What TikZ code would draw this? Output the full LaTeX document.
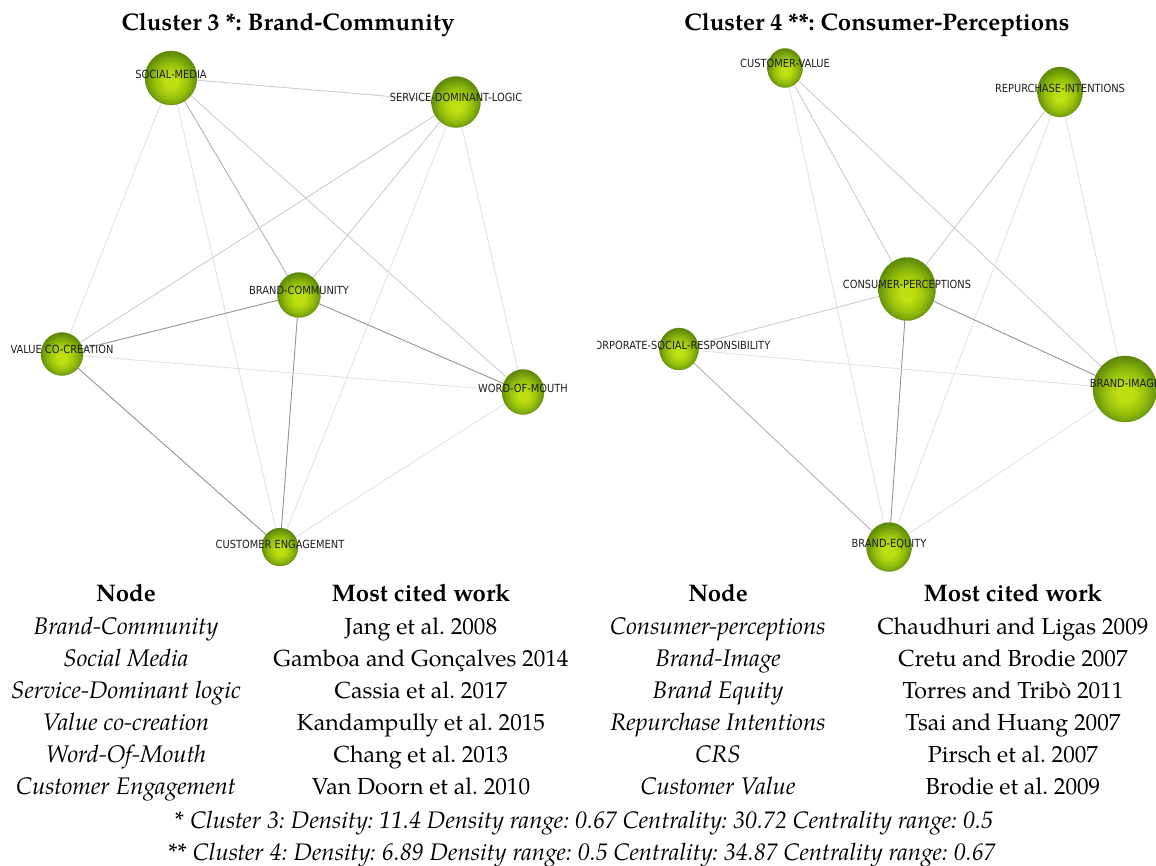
\documentclass[tikz,border=0pt]{standalone}
\usepackage{fontspec}
\setmainfont{TeX Gyre Pagella}
\newfontfamily\netfont[FakeStretch=0.88]{DejaVu Sans}
\usepackage{tikz}
\usetikzlibrary{shapes.geometric}
\frenchspacing

\definecolor{balllight}{RGB}{190,224,16}
\definecolor{ballmid}{RGB}{150,192,12}
\definecolor{balldark}{RGB}{90,134,8}
\definecolor{labelgray}{RGB}{30,30,30}
\pgfdeclareradialshading{greenball}{\pgfpoint{0bp}{-4bp}}{%
  color(0bp)=(balllight); color(6bp)=(balllight); color(16bp)=(ballmid);
  color(27bp)=(balldark); color(50bp)=(balldark)}
\pgfdeclarelayer{background}
\pgfsetlayers{background,main}

\tikzset{
  ball/.style={ellipse, shade, shading=greenball, inner sep=0pt,
    draw=balldark, line width=0.3pt},
  lbl/.style={font=\netfont\fontsize{11.2}{13}\selectfont, text=labelgray,
    inner sep=0pt, text height=8pt, text depth=0pt},
  link/.style={line width=0.9pt},
  lnfaint/.style={link, draw=black!11},
  lnlight/.style={link, draw=black!20},
  lnmid/.style={link, draw=black!30},
  lndark/.style={link, draw=black!42},
  ttl/.style={font=\fontsize{24}{28}\selectfont\bfseries, inner sep=0pt, anchor=base},
  cell/.style={font=\fontsize{23.2}{28}\selectfont, inner sep=0pt, anchor=base},
  nodecell/.style={cell, font=\fontsize{24}{28}\selectfont\itshape},
  note/.style={font=\fontsize{23.9}{28}\selectfont\itshape, inner sep=0pt, anchor=base}
}

\begin{document}
\begin{tikzpicture}[x=1pt,y=-1pt]
\useasboundingbox (0,0) rectangle (1156,866);

% titles
\node[ttl] (t3) at (288,31) {Cluster 3 *: Brand-Community};
\node[ttl] (t4) at (877,31) {Cluster 4 **: Consumer-Perceptions};

% cluster 3
\node[ball, minimum width=52pt, minimum height=54pt] (sm) at (171,78) {};
\node[ball, minimum width=49pt, minimum height=51pt] (sdl) at (456,102) {};
\node[ball, minimum width=43pt, minimum height=45pt] (bc) at (299,295) {};
\node[ball, minimum width=42pt, minimum height=43pt] (vcc) at (62,354) {};
\node[ball, minimum width=42pt, minimum height=45pt] (wom) at (523,392) {};
\node[ball, minimum width=36pt, minimum height=38pt] (ce) at (280,547) {};

\node[lbl] (sm-l) at ([yshift=3.5pt]sm.center) {SOCIAL-MEDIA};
\node[lbl] (sdl-l) at ([yshift=4pt]sdl.center) {SERVICE-DOMINANT-LOGIC};
\node[lbl] (bc-l) at ([yshift=4pt]bc.center) {BRAND-COMMUNITY};
\node[lbl] (vcc-l) at ([yshift=4pt]vcc.center) {VALUE CO-CREATION};
\node[lbl] (wom-l) at ([yshift=4pt]wom.center) {WORD-OF-MOUTH};
\node[lbl] (ce-l) at ([yshift=3pt]ce.center) {CUSTOMER ENGAGEMENT};

\begin{pgfonlayer}{background}
  \draw[lnlight] (sm) -- (sdl);
  \draw[lnfaint] (sm) -- (vcc);
  \draw[lnfaint] (sm) -- (ce);
  \draw[lnmid] (sm) -- (bc);
  \draw[lnlight] (sm) -- (wom);
  \draw[lnlight] (sdl) -- (vcc);
  \draw[lnlight] (sdl) -- (bc);
  \draw[lnfaint] (sdl) -- (ce);
  \draw[lnfaint] (sdl) -- (wom);
  \draw[lndark] (bc) -- (vcc);
  \draw[lndark] (bc) -- (wom);
  \draw[lndark] (bc) -- (ce);
  \draw[lnfaint] (vcc) -- (wom);
  \draw[lndark] (vcc) -- (ce);
  \draw[lnfaint] (wom) -- (ce);
\end{pgfonlayer}

% cluster 4
\begin{scope}
\clip (597,40) rectangle (1156,580);
\node[ball, minimum width=35pt, minimum height=39pt] (cv) at (785,68) {};
\node[ball, minimum width=45pt, minimum height=50pt] (ri) at (1060,92) {};
\node[ball, minimum width=57pt, minimum height=63pt] (cp) at (907,289) {};
\node[ball, minimum width=39pt, minimum height=42pt] (csr) at (679,349) {};
\node[ball, minimum width=64pt, minimum height=66pt] (bi) at (1125,389) {};
\node[ball, minimum width=45pt, minimum height=49pt] (be) at (889,547) {};

\node[lbl] (cv-l) at ([yshift=4pt]cv.center) {CUSTOMER-VALUE};
\node[lbl] (ri-l) at ([yshift=3pt]ri.center) {REPURCHASE-INTENTIONS};
\node[lbl] (cp-l) at ([yshift=4pt]cp.center) {CONSUMER-PERCEPTIONS};
\node[lbl] (csr-l) at ([yshift=3pt]csr.center) {CORPORATE-SOCIAL-RESPONSIBILITY};
\node[lbl] (bi-l) at ([yshift=5pt]bi.center) {BRAND-IMAGE};
\node[lbl] (be-l) at ([yshift=4pt]be.center) {BRAND-EQUITY};

\begin{pgfonlayer}{background}
  \draw[lnlight] (cv) -- (cp);
  \draw[lnfaint] (cv) -- (be);
  \draw[lnlight] (cv) -- (bi);
  \draw[lnlight] (ri) -- (cp);
  \draw[lnfaint] (ri) -- (be);
  \draw[lnfaint] (ri) -- (bi);
  \draw[lnlight] (cp) -- (csr);
  \draw[lndark] (cp) -- (bi);
  \draw[lndark] (cp) -- (be);
  \draw[lnfaint] (csr) -- (bi);
  \draw[lnmid] (csr) -- (be);
  \draw[lnfaint] (bi) -- (be);
\end{pgfonlayer}
\end{scope}

% tables
\node[ttl] (h3a) at (126,601) {Node};
\node[ttl] (h3b) at (421,601) {Most cited work};
\node[ttl] (h4a) at (718,601) {Node};
\node[ttl] (h4b) at (1013,601) {Most cited work};

\foreach \i/\a/\b in {1/Brand-Community/Jang et al. 2008,
    2/Social Media/Gamboa and Gonçalves 2014,
    3/Service-Dominant logic/Cassia et al. 2017,
    4/Value co-creation/Kandampully et al. 2015,
    5/Word-Of-Mouth/Chang et al. 2013,
    6/Customer Engagement/Van Doorn et al. 2010}
  \node[nodecell] (l\i) at (126,602+32*\i) {\a}
    node[cell] (r\i) at (421,602+32*\i) {\b};

\foreach \i/\a/\b in {1/Consumer-perceptions/Chaudhuri and Ligas 2009,
    2/Brand-Image/Cretu and Brodie 2007,
    3/Brand Equity/Torres and Tribò 2011,
    4/Repurchase Intentions/Tsai and Huang 2007,
    5/CRS/Pirsch et al. 2007,
    6/Customer Value/Brodie et al. 2009}
  \node[nodecell] (ll\i) at (718,602+32*\i) {\a}
    node[cell] (rr\i) at (1013,602+32*\i) {\b};

% notes
\node[note] (n3) at (584,828) {* Cluster 3: Density: 11.4 Density range: 0.67 Centrality: 30.72 Centrality range: 0.5};
\node[note] (n4) at (582,860) {** Cluster 4: Density: 6.89 Density range: 0.5 Centrality: 34.87 Centrality range: 0.67};
\end{tikzpicture}
\end{document}
